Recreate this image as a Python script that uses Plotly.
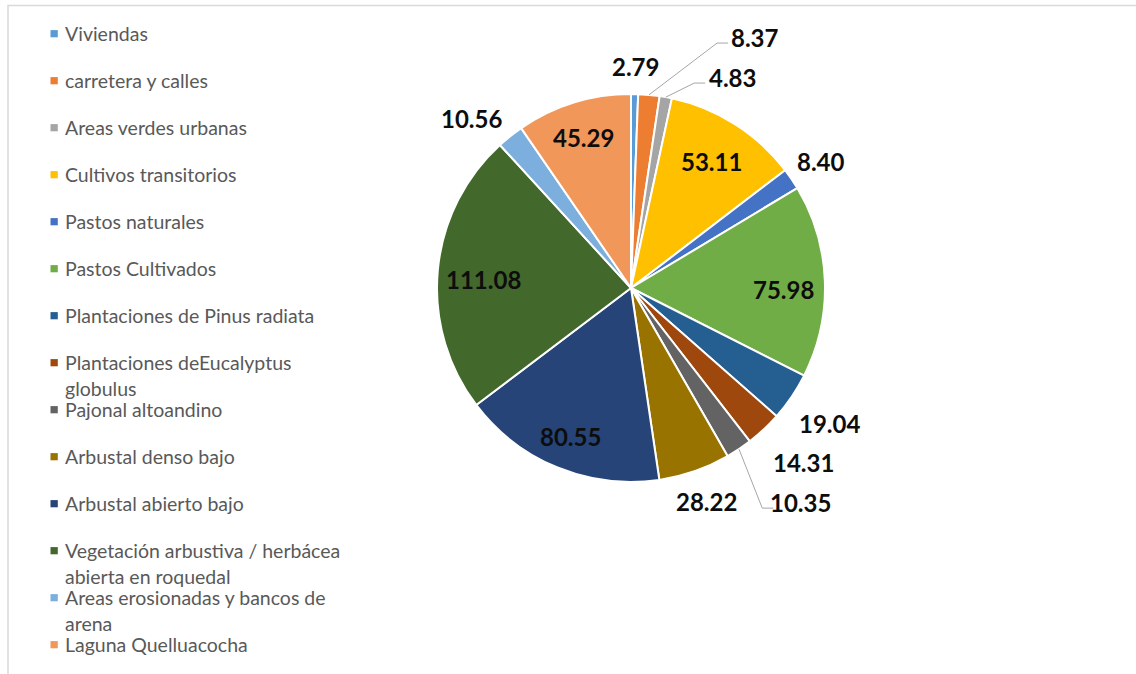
import math
import textwrap
import plotly.graph_objects as go

# ---------------- data ----------------
labels = [
    "Viviendas",
    "carretera y calles",
    "Areas verdes urbanas",
    "Cultivos transitorios",
    "Pastos naturales",
    "Pastos Cultivados",
    "Plantaciones de Pinus radiata",
    "Plantaciones deEucalyptus globulus",
    "Pajonal altoandino",
    "Arbustal denso bajo",
    "Arbustal abierto bajo",
    "Vegetación arbustiva / herbácea abierta en roquedal",
    "Areas erosionadas y bancos de arena",
    "Laguna Quelluacocha",
]
values = [2.79, 8.37, 4.83, 53.11, 8.40, 75.98, 19.04, 14.31, 10.35,
          28.22, 80.55, 111.08, 10.56, 45.29]

# ---------------- styles ----------------
colors = ["#5B9BD5", "#ED7D31", "#A5A5A5", "#FFC000", "#4472C4", "#70AD47",
          "#255E91", "#9E480E", "#636363", "#997300", "#264478", "#43682B",
          "#7CAFDD", "#F1975A"]
# label placement: radial factor (x radius), angular nudge (deg), leader line flag
lab_rfac = [1.14, 1.443, 1.206, 0.773, 1.175, 0.784, 1.237, 1.263, 1.407,
            1.17, 0.825, 0.763, 1.20, 0.814]
lab_dang = [0.0, 21.0, 15.3, 0.3, 0.6, 2.5, 0.2, -1.5, -4.5,
            -0.4, 0.1, -2.1, -4.6, -0.4]
lab_leader = [False, True, True, False, False, False, False, False, True,
              False, False, False, False, False]

W, H = 1136, 674
CX, CY, R = 631, 288, 194


def px(x):
    return x / W


def py(y):
    return 1 - y / H


fig = go.Figure()
fig.add_trace(go.Pie(
    labels=labels,
    values=values,
    sort=False,
    direction="clockwise",
    rotation=0,
    textinfo="none",
    hoverinfo="label+value",
    marker=dict(colors=colors, line=dict(color="white", width=2)),
    domain=dict(x=[px(CX - R), px(CX + R)], y=[py(CY + R), py(CY - R)]),
    showlegend=False,
))

annotations = []
shapes = []

# data labels, placed from the slice mid-angles
total = sum(values)
cum = 0.0
for i, v in enumerate(values):
    mid = (cum + v / 2) / total * 360.0
    cum += v
    ang = math.radians(mid + lab_dang[i])
    rr = R * lab_rfac[i]
    lx = CX + rr * math.sin(ang)
    ly = CY - rr * math.cos(ang)
    annotations.append(dict(
        x=px(lx), y=py(ly), xref="paper", yref="paper",
        text=f"{v:.2f}", showarrow=False, xanchor="center", yanchor="middle",
        font=dict(family="Lato", size=24, color="#0D0D0D", weight="bold"),
    ))
    if lab_leader[i]:
        m = math.radians(mid)
        sx = CX + R * math.sin(m)
        sy = CY - R * math.cos(m)
        hw = 22
        ex, ey = lx - hw - 16, ly + 6
        fx = lx - hw - 5
        shapes.append(dict(
            type="path", xref="paper", yref="paper",
            path=f"M {px(sx)} {py(sy)} L {px(ex)} {py(ey)} L {px(fx)} {py(ey)}",
            line=dict(color="#A6A6A6", width=1),
        ))

# legend (one fixed slot per entry, markers aligned with first line)
LEG_Y0, LEG_STEP, LINE_H = 33.7, 47, 25.5
for i, lab in enumerate(labels):
    yc = LEG_Y0 + LEG_STEP * i
    shapes.append(dict(
        type="rect", xref="paper", yref="paper",
        x0=px(50.5), x1=px(57.8), y0=py(yc - 3.6), y1=py(yc + 3.6),
        fillcolor=colors[i], line=dict(width=0),
    ))
    for k, line in enumerate(textwrap.wrap(lab, width=31)):
        annotations.append(dict(
            x=px(62.5), y=py(yc + k * LINE_H), xref="paper", yref="paper",
            text=line, showarrow=False, xanchor="left", yanchor="middle",
            font=dict(family="Lato", size=19.5, color="#595959"),
        ))

# chart area border (top and left edges visible)
shapes.append(dict(
    type="path", xref="paper", yref="paper",
    path=f"M {px(8)} {py(690)} L {px(8)} {py(5.5)} L {px(1150)} {py(5.5)}",
    line=dict(color="#D9D9D9", width=1.5),
))

fig.update_layout(
    width=W, height=H, autosize=False,
    margin=dict(l=0, r=0, t=0, b=0, pad=0),
    paper_bgcolor="white", plot_bgcolor="white",
    annotations=annotations, shapes=shapes,
    showlegend=False,
)

fig.write_html("out.html")
